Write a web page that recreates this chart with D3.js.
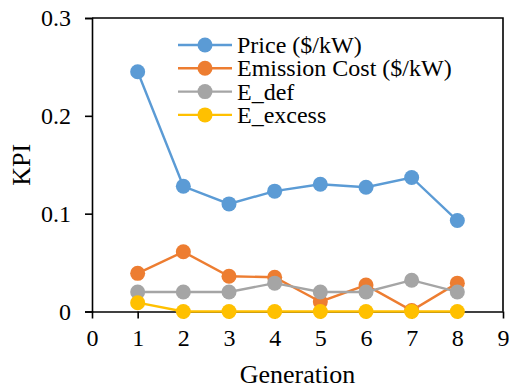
<!DOCTYPE html>
<html>
<head>
<meta charset="utf-8">
<script src="https://cdn.jsdelivr.net/npm/d3@7"></script>
<style>
  html, body { margin: 0; padding: 0; background: #fff; }
  svg { display: block; }
  svg text { font-family: "Liberation Serif", "Times New Roman", Times, serif !important; fill: #000; }
</style>
</head>
<body>
<svg id="chart" width="512" height="388"></svg>
<script>
// KPI values per generation
const generations = [1, 2, 3, 4, 5, 6, 7, 8];
const price = [0.245, 0.128, 0.110, 0.123, 0.130, 0.127, 0.137, 0.093];
const emissionCost = [0.039, 0.061, 0.036, 0.035, 0.010, 0.027, 0.001, 0.029];
const eDef = [0.020, 0.020, 0.020, 0.029, 0.020, 0.020, 0.032, 0.020];
const eExcess = [0.009, 0, 0, 0, 0, 0, 0, 0];
const seriesNames = ["Price ($/kW)", "Emission Cost ($/kW)", "E_def", "E_excess"];
const seriesColors = ["#5B9BD5", "#ED7D31", "#A5A5A5", "#FFC000"];
const xTicks = [0, 1, 2, 3, 4, 5, 6, 7, 8, 9];
const yTicks = [0, 0.1, 0.2, 0.3];

const series = [price, emissionCost, eDef, eExcess].map((vals, i) => ({
  name: seriesNames[i],
  color: seriesColors[i],
  points: generations.map((g, j) => ({ x: g, y: vals[j] }))
}));

const svg = d3.select("#chart");
const plotLeft = 92, plotRight = 503, plotTop = 18, plotBottom = 311.5;

const x = d3.scaleLinear().domain([0, 9]).range([plotLeft, plotRight]);
const y = d3.scaleLinear().domain([0, 0.3]).range([plotBottom, plotTop]);

// plot frame (top and right edges)
svg.append("path")
  .attr("d", `M${plotLeft},${plotTop}H${plotRight}V${plotBottom}`)
  .attr("fill", "none").attr("stroke", "#000").attr("stroke-width", 1.6);

// y axis
const yAxis = svg.append("g")
  .attr("transform", `translate(${plotLeft},0)`)
  .call(d3.axisLeft(y).tickValues(yTicks).tickSize(7).tickPadding(14)
    .tickFormat(d => d === 0 ? "0" : d3.format(".1f")(d)));
yAxis.select(".domain").attr("stroke-width", 1.6);
yAxis.selectAll(".tick line").attr("stroke-width", 1.6);
yAxis.selectAll("text").attr("font-size", 24);

// x axis
const xAxis = svg.append("g")
  .attr("transform", `translate(0,${plotBottom})`)
  .call(d3.axisBottom(x).tickValues(xTicks).tickSize(7).tickPadding(10).tickSizeOuter(0)
    .tickFormat(d3.format("d")));
xAxis.select(".domain").attr("stroke-width", 1.6);
xAxis.selectAll(".tick line").attr("stroke-width", 1.6);
xAxis.selectAll("text").attr("font-size", 24);

// axis titles
svg.append("text")
  .attr("x", (plotLeft + plotRight) / 2).attr("y", 383)
  .attr("text-anchor", "middle").attr("font-size", 26)
  .text("Generation");
svg.append("text")
  .attr("transform", `translate(30,${(plotTop + plotBottom) / 2}) rotate(-90)`)
  .attr("text-anchor", "middle").attr("font-size", 26)
  .text("KPI");

// series lines and markers
const line = d3.line().x(d => x(d.x)).y(d => y(d.y));
series.forEach(s => {
  const g = svg.append("g");
  g.append("path").datum(s.points)
    .attr("d", line).attr("fill", "none")
    .attr("stroke", s.color).attr("stroke-width", 2.4);
  g.selectAll("circle").data(s.points).join("circle")
    .attr("cx", d => x(d.x)).attr("cy", d => y(d.y)).attr("r", 7.5)
    .attr("fill", s.color);
});

// legend
const legend = svg.append("g");
series.forEach((s, i) => {
  const ly = 45 + i * 23.3;
  legend.append("line")
    .attr("x1", 178).attr("x2", 232).attr("y1", ly).attr("y2", ly)
    .attr("stroke", s.color).attr("stroke-width", 2.4);
  legend.append("circle").attr("cx", 205).attr("cy", ly).attr("r", 7.5).attr("fill", s.color);
  legend.append("text")
    .attr("x", 237).attr("y", ly).attr("dy", "0.34em")
    .attr("font-size", 24)
    .text(s.name);
});
</script>
</body>
</html>
